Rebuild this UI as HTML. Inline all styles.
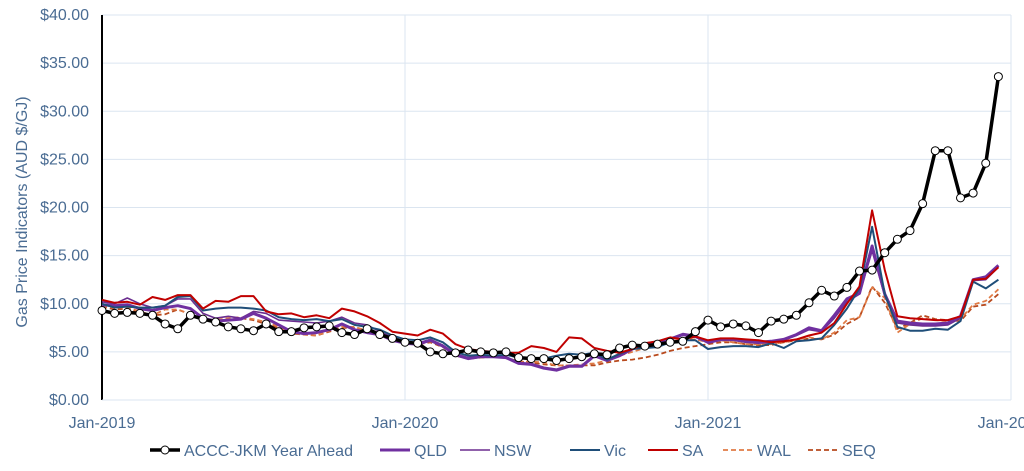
<!DOCTYPE html>
<html><head><meta charset="utf-8"><style>
body{margin:0;background:#fff;font-family:"Liberation Sans",sans-serif}
svg{display:block}
</style></head><body>
<svg id="chart" width="1024" height="471" xmlns="http://www.w3.org/2000/svg" font-family="Liberation Sans, sans-serif"></svg>
<script>
const yTicks=[0,5,10,15,20,25,30,35,40];
const xTickLabels=["Jan-2019","Jan-2020","Jan-2021","Jan-2022"];
const xTickMonths=[0,12,24,36];
const seriesNames=["ACCC-JKM Year Ahead","QLD","NSW","Vic","SA","WAL","SEQ"];
const jkm=[9.3,9.0,9.1,9.0,8.8,7.9,7.4,8.8,8.4,8.1,7.6,7.4,7.2,7.9,7.1,7.1,7.5,7.6,7.7,7.0,6.8,7.4,6.8,6.4,
6.0,5.9,5.0,4.8,4.9,5.2,5.0,4.9,5.0,4.4,4.3,4.3,4.1,4.3,4.5,4.8,4.7,5.4,5.7,5.6,5.8,6.0,6.1,7.1,
8.3,7.6,7.9,7.7,7.0,8.2,8.4,8.8,10.1,11.4,10.8,11.7,13.4,13.5,15.3,16.7,17.6,20.4,25.9,25.9,21.0,21.5,24.6,33.6];
const qld=[9.9,9.8,9.9,9.5,9.3,9.6,9.8,9.5,8.5,8.2,8.3,8.4,9.0,8.5,7.8,7.1,6.9,7.0,7.3,7.9,7.3,7.0,6.8,6.2,
5.9,5.8,6.2,5.6,4.7,4.3,4.5,4.5,4.4,3.8,3.7,3.3,3.1,3.5,3.5,4.6,4.1,4.6,5.3,5.8,6.0,6.3,6.8,6.6,
6.0,6.3,6.3,6.1,6.0,6.1,6.3,6.8,7.5,7.2,8.8,10.5,11.1,16.0,11.0,8.2,8.0,7.9,7.9,8.0,8.7,12.5,12.8,14.0];
const nsw=[10.2,10.0,10.6,10.0,9.6,9.8,10.5,10.5,9.0,8.5,8.7,8.5,9.2,9.0,8.3,8.2,8.1,8.0,8.2,8.6,8.0,7.8,7.1,6.5,
6.0,5.9,6.3,5.7,4.8,4.4,4.6,4.6,4.5,3.9,3.8,3.4,3.2,3.6,3.6,4.7,4.2,4.7,5.4,5.9,6.1,6.4,6.9,6.7,
5.9,6.2,6.2,6.0,5.9,6.0,6.2,6.7,7.3,7.1,8.5,10.2,11.0,15.5,10.8,8.0,7.8,7.7,7.7,7.8,8.5,12.4,12.5,13.8];
const vic=[10.0,9.6,9.7,9.6,9.6,9.8,10.7,10.8,9.3,9.5,9.6,9.6,9.5,9.3,8.6,8.4,8.3,8.4,8.2,8.4,7.8,7.6,7.3,6.7,
6.3,6.2,6.5,6.0,5.0,4.6,4.7,4.6,4.7,4.4,4.3,4.3,4.6,4.8,4.7,4.9,4.2,4.8,5.3,5.4,5.5,6.0,6.2,6.2,
5.3,5.5,5.6,5.6,5.5,5.9,5.4,6.1,6.2,6.4,7.8,9.5,11.6,18.0,11.0,7.6,7.2,7.2,7.4,7.3,8.2,12.3,11.6,12.5];
const sa=[10.4,10.1,10.2,9.9,10.7,10.4,10.9,10.9,9.5,10.3,10.2,10.8,10.8,9.2,8.9,9.0,8.6,8.8,8.5,9.5,9.2,8.7,8.0,7.1,
6.9,6.7,7.3,6.9,5.8,5.3,5.1,5.0,4.9,4.9,5.6,5.4,5.0,6.5,6.4,5.4,5.1,4.9,5.3,5.9,6.1,6.5,6.3,6.6,
6.2,6.4,6.4,6.3,6.2,6.0,6.1,6.3,6.7,7.0,8.0,10.0,11.8,19.7,13.5,8.7,8.5,8.4,8.3,8.3,8.7,12.5,12.6,13.8];
const wal=[9.7,9.6,9.6,9.2,8.8,9.4,9.4,8.9,8.4,8.3,8.5,8.6,8.4,8.1,7.6,7.0,6.8,6.7,7.2,7.6,7.6,7.2,6.8,6.4,
6.0,5.9,6.1,5.6,4.7,4.3,4.4,4.5,4.4,4.0,4.0,3.9,3.6,3.6,3.7,3.8,4.1,4.6,5.0,5.4,5.8,6.1,6.3,6.3,
6.0,6.2,6.0,5.8,5.8,5.8,6.0,6.3,6.5,6.3,7.0,8.3,8.6,11.7,10.6,7.0,7.9,8.5,8.3,8.2,8.4,9.9,10.3,11.5];
const seq=[9.7,9.4,9.5,9.0,8.8,8.9,9.4,8.9,8.3,8.3,8.4,8.5,8.3,7.9,7.5,6.9,6.8,6.7,7.1,7.5,7.5,7.1,6.8,6.4,
6.0,5.8,6.0,5.5,4.6,4.3,4.4,4.5,4.4,4.0,3.9,3.7,3.6,3.6,3.6,3.6,3.9,4.1,4.2,4.4,4.7,5.1,5.4,5.6,
5.8,6.0,6.0,5.8,5.7,5.7,6.0,6.2,6.4,6.3,6.8,7.9,8.6,11.8,10.1,7.4,8.0,8.8,8.4,8.3,8.2,9.7,9.9,11.0];

const NS="http://www.w3.org/2000/svg";
const svg=document.getElementById('chart');
const X0=102,X1=1011,Y0=400,Y1=15;
const xs=m=>X0+m/36*(X1-X0);
const xi=i=>xs(i*0.5);
const ys=v=>Y0-v/40*(Y0-Y1);
function mk(tag,attrs,parent){const e=document.createElementNS(NS,tag);for(const k in attrs)e.setAttribute(k,attrs[k]);(parent||svg).appendChild(e);return e;}

yTicks.forEach(v=>{
  if(v>0){const g=mk('line',{x1:X0,x2:X1,y1:ys(v),y2:ys(v),stroke:'#dbe5f0','stroke-width':1});
  
  }
  const t=mk('text',{x:89,y:ys(v)+5,'text-anchor':'end','font-size':16,fill:'#4a6c93'});
  t.textContent='$'+v.toFixed(2);
  
  
});
xTickMonths.forEach((m,i)=>{
  if(m>0){const g=mk('line',{x1:xs(m),x2:xs(m),y1:Y1,y2:Y0,stroke:'#dbe5f0','stroke-width':1});
  
  }
  const t=mk('text',{x:xs(m),y:428,'text-anchor':'middle','font-size':16,fill:'#4a6c93'});
  t.textContent=xTickLabels[i];
  
  
});
const ax=mk('line',{x1:X0,x2:X0,y1:Y1,y2:Y0,stroke:'#000','stroke-width':2});


const ax2=mk('line',{x1:X0,x2:X1,y1:Y0,y2:Y0,stroke:'#dbe5f0','stroke-width':1});


const yt=mk('text',{x:0,y:0,'text-anchor':'middle','font-size':16,fill:'#4a6c93',transform:'translate(27,212) rotate(-90)'});
yt.textContent='Gas Price Indicators (AUD $/GJ)';



const styles=[
 {d:jkm,c:'#000',w:3.5,dash:null,name:'series-accc-jkm'},
 {d:qld,c:'#7030a0',w:3,dash:null,name:'series-qld'},
 {d:nsw,c:'#6b2d8f',w:1.6,dash:null,name:'series-nsw'},
 {d:vic,c:'#1f4e79',w:2,dash:null,name:'series-vic'},
 {d:sa,c:'#c00000',w:2,dash:null,name:'series-sa'},
 {d:wal,c:'#e07b45',w:1.8,dash:'5,3',name:'series-wal'},
 {d:seq,c:'#b84a1e',w:1.8,dash:'5,3',name:'series-seq'}
];
const order=[6,5,2,1,3,4,0];
order.forEach(k=>{
  const s=styles[k];
  const p=s.d.map((v,i)=>(i?'L':'M')+xi(i).toFixed(1)+','+ys(v).toFixed(1)).join(' ');
  const a={d:p,fill:'none',stroke:s.c,'stroke-width':s.w,'stroke-linejoin':'round'};
  if(s.dash)a['stroke-dasharray']=s.dash;
  const e=mk('path',a);
  
  
});
jkm.forEach((v,i)=>{
  const c=mk('circle',{cx:xi(i),cy:ys(v),r:4,fill:'#fff',stroke:'#000','stroke-width':1});
  
  
});

const legX=[150,380,460,570,648,723,808];
legX.forEach((lx,k)=>{
  const s=styles[k];
  const g=mk('g',{});
  
  
  const a={x1:lx,x2:lx+30,y1:450,y2:450,stroke:s.c,'stroke-width':s.w};
  if(s.dash)a['stroke-dasharray']=s.dash;
  mk('line',a,g);
  if(k===0)mk('circle',{cx:lx+15,cy:450,r:4,fill:'#fff',stroke:'#000','stroke-width':1},g);
  const t=mk('text',{x:lx+34,y:456,'font-size':16,fill:'#4a6c93'},g);
  t.textContent=seriesNames[k];
});
</script>
</body></html>
